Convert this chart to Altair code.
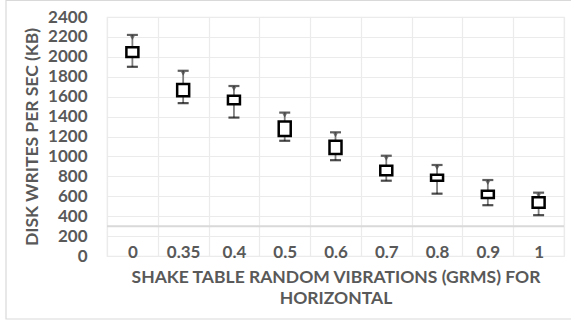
import altair as alt
import pandas as pd

categories = ["0", "0.35", "0.4", "0.5", "0.6", "0.7", "0.8", "0.9", "1"]
mins = [1900, 1535, 1390, 1157, 962, 756, 626, 510, 410]
q1s = [1998, 1603, 1523, 1206, 1024, 810, 756, 582, 485]
q3s = [2095, 1727, 1609, 1350, 1158, 907, 816, 656, 589]
maxs = [2220, 1860, 1707, 1440, 1242, 1007, 914, 763, 636]
ref_line = [300]

df = pd.DataFrame({"cat": categories, "min": mins, "q1": q1s, "q3": q3s, "max": maxs})

FONT = "Lato"
GRAY = "#595959"
GRID = "#ebebeb"

xscale = alt.Scale(domain=categories, paddingInner=0, paddingOuter=0)
yscale = alt.Scale(domain=[0, 2400], nice=False)

x_axis = alt.Axis(
    title=["SHAKE TABLE RANDOM VIBRATIONS (GRMS) FOR", "HORIZONTAL"],
    labelAngle=0, grid=True, gridColor=GRID, gridWidth=1.2, tickBand="extent",
    ticks=False, domain=False, offset=-4,
    labelPadding=0, labelBaseline="middle",
    labelFont=FONT, labelFontSize=17, labelFontWeight="bold", labelColor=GRAY,
    titleFont=FONT, titleFontSize=17.5, titleFontWeight="bold", titleColor=GRAY,
    titleBaseline="top", titleY=16, titleLineHeight=21, titleX=228.5, titleAlign="center",
)
y_axis = alt.Axis(
    title="DISK WRITES PER SEC (KB)", values=list(range(0, 2401, 200)), format="d",
    grid=True, gridColor=GRID, gridWidth=1.2, ticks=False, domain=False,
    labelPadding=20, labelFont=FONT, labelFontSize=17, labelFontWeight="bold",
    labelColor=GRAY,
    titleFont=FONT, titleFontSize=17.5, titleFontWeight="bold", titleColor=GRAY,
    titleX=-75, titleY=119.5, titleAlign="center", titleBaseline="middle", titleAngle=-90,
)


def X():
    return alt.X("cat:N", scale=xscale, sort=categories, axis=x_axis)


def Y(field):
    return alt.Y(field, scale=yscale, axis=y_axis)


base = alt.Chart(df)

whisker = base.mark_rule(color="#7f7f7f", strokeWidth=1.8).encode(
    x=X(), y=Y("min:Q"), y2="max:Q"
)
low_cap = base.mark_tick(color="black", thickness=2.2, size=11, orient="horizontal").encode(
    x=X(), y=Y("min:Q")
)
hi_cap = base.mark_tick(color="#1a1a1a", thickness=2.2, size=11, orient="horizontal").encode(
    x=X(), y=Y("max:Q")
)
hi_tri = base.mark_point(shape="triangle-down", filled=True, color="#404040", size=22, yOffset=3).encode(
    x=X(), y=Y("max:Q")
)
box = base.mark_bar(fill="white", stroke="black", strokeWidth=2.5, width=12).encode(
    x=X(), y=Y("q1:Q"), y2="q3:Q"
)
hline = alt.Chart(pd.DataFrame({"v": ref_line})).mark_rule(color="#d9d9d9", strokeWidth=2).encode(
    y=Y("v:Q")
)
frame = alt.Chart(pd.DataFrame({"v": ref_line})).mark_rect(
    fill=None, stroke="#d9d9d9", strokeWidth=1.2, clip=False
).encode(
    x=alt.value(-101), x2=alt.value(470), y=alt.value(-16.5), y2=alt.value(302)
)

chart = alt.layer(
    whisker, hline, low_cap, hi_cap, hi_tri, box, frame
).properties(
    width=457, height=239,
    autosize=alt.AutoSizeParams(type="none"),
    padding={"left": 107, "top": 17, "right": 7, "bottom": 64},
    background="white",
).configure_view(stroke=GRID, strokeWidth=1.2)

chart.save("out.html", embed_options={"renderer": "svg", "actions": False})
